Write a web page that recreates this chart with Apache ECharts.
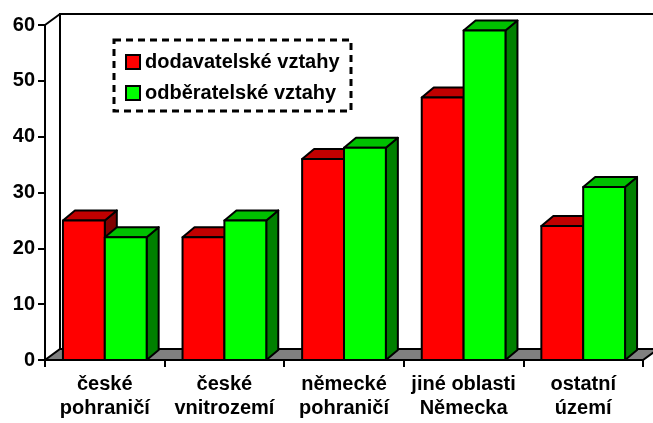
<!DOCTYPE html>
<html>
<head>
<meta charset="utf-8">
<script src="https://cdn.jsdelivr.net/npm/echarts@6/dist/echarts.min.js"></script>
<style>
  html, body { margin: 0; padding: 0; background: #fff; }
  #chart { width: 653px; height: 423px; }
</style>
</head>
<body>
<div id="chart"></div>
<script>
const categories = [
    "české\npohraničí", "české\nvnitrozemí", "německé\npohraničí",
    "jiné oblasti\nNěmecka", "ostatní\núzemí"
];
const seriesNames = ["dodavatelské vztahy", "odběratelské vztahy"];
const dodavatelske = [25, 22, 36, 47, 24];
const odberatelske = [22, 25, 38, 59, 31];

const FONT = "'Liberation Sans', Arial, sans-serif";
const WALL_DX = 15, WALL_DY = -11;   // depth of the back wall
const BAR_DX = 12, BAR_DY = -10;     // depth of a bar

// colours: front, top, side
const redFaces = ['#ff0000', '#c00000', '#800000'];
const greenFaces = ['#00ff00', '#00c000', '#008000'];

function renderFrame(params, api) {
    const band = api.size([1, 0])[0];
    const first = api.coord([0, 0]);
    const last = api.coord([categories.length - 1, 60]);
    const L = first[0] - band / 2, R = last[0] + band / 2;
    const B = first[1], T = last[1];
    const line = { stroke: '#000', lineWidth: 2, fill: null };
    return {
        type: 'group',
        children: [
            { type: 'polygon', shape: { points: [[L, B], [R, B], [R + WALL_DX, B + WALL_DY], [L + WALL_DX, B + WALL_DY]] },
              style: { fill: '#808080', stroke: '#000', lineWidth: 2 } },
            { type: 'polyline', shape: { points: [[L + WALL_DX, B + WALL_DY], [L + WALL_DX, T + WALL_DY], [R + WALL_DX + 20, T + WALL_DY]] }, style: line },
            { type: 'line', shape: { x1: L, y1: T, x2: L + WALL_DX, y2: T + WALL_DY }, style: line }
        ]
    };
}

function makeBarRender(pos, faces) {
    return function (params, api) {
        const band = api.size([1, 0])[0];
        const w = band * 0.35;
        const base = api.coord([api.value(0), 0]);
        const top = api.coord([api.value(0), api.value(1)]);
        const x0 = base[0] + (pos === 0 ? -w : 0);
        const x1 = x0 + w;
        const yT = top[1], yB = base[1];
        const st = (fill) => ({ fill: fill, stroke: '#000', lineWidth: 2, lineJoin: 'round' });
        return {
            type: 'group',
            children: [
                { type: 'polygon', shape: { points: [[x1, yT], [x1 + BAR_DX, yT + BAR_DY], [x1 + BAR_DX, yB + BAR_DY], [x1, yB]] }, style: st(faces[2]) },
                { type: 'polygon', shape: { points: [[x0, yT], [x0 + BAR_DX, yT + BAR_DY], [x1 + BAR_DX, yT + BAR_DY], [x1, yT]] }, style: st(faces[1]) },
                { type: 'rect', shape: { x: x0, y: yT, width: w, height: yB - yT }, style: st(faces[0]) }
            ]
        };
    };
}

const chart = echarts.init(document.getElementById('chart'));
chart.setOption({
    animation: false,
    backgroundColor: '#fff',
    textStyle: { fontFamily: FONT },
    grid: { left: 45, right: 10, top: 25, bottom: 63 },
    legend: {
        orient: 'vertical',
        left: 125,
        top: 52,
        padding: 0,
        itemWidth: 14,
        itemHeight: 14,
        itemGap: 11,
        icon: 'rect',
        data: seriesNames,
        itemStyle: { borderColor: '#000', borderWidth: 2 },
        textStyle: { fontFamily: FONT, fontWeight: 'bold', fontSize: 20, color: '#000' }
    },
    graphic: [{
        type: 'rect',
        shape: { x: 114, y: 40, width: 237, height: 71 },
        style: { fill: null, stroke: '#000', lineWidth: 3, lineDash: [7, 5] },
        z: 10
    }],
    xAxis: {
        type: 'category',
        data: categories,
        axisLine: { lineStyle: { color: '#000', width: 2 } },
        axisTick: { show: true, length: 7, lineStyle: { color: '#000', width: 2 } },
        axisLabel: {
            interval: 0, margin: 12, color: '#000', fontWeight: 'bold', fontSize: 20,
            lineHeight: 24, fontFamily: FONT
        }
    },
    yAxis: {
        type: 'value',
        min: 0, max: 60, interval: 10,
        splitLine: { show: false },
        axisLine: { show: true, lineStyle: { color: '#000', width: 2 } },
        axisTick: { show: true, length: 7, lineStyle: { color: '#000', width: 2 } },
        axisLabel: { margin: 10, color: '#000', fontWeight: 'bold', fontSize: 20, fontFamily: FONT }
    },
    series: [
        {
            type: 'custom', name: 'frame', silent: true,
            renderItem: renderFrame,
            data: [[0, 0]], encode: { x: 0, y: 1 }, z: 1
        },
        {
            type: 'custom', name: seriesNames[0],
            itemStyle: { color: redFaces[0] },
            renderItem: makeBarRender(0, redFaces),
            data: dodavatelske.map((v, i) => [i, v]), encode: { x: 0, y: 1 }, z: 3
        },
        {
            type: 'custom', name: seriesNames[1],
            itemStyle: { color: greenFaces[0] },
            renderItem: makeBarRender(1, greenFaces),
            data: odberatelske.map((v, i) => [i, v]), encode: { x: 0, y: 1 }, z: 4
        }
    ]
});
</script>
</body>
</html>
